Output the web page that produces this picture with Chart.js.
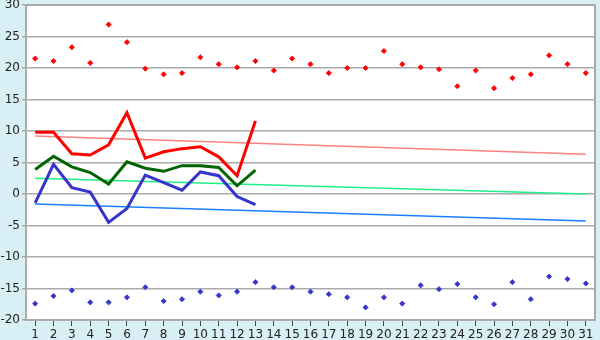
<!DOCTYPE html>
<html>
<head>
<meta charset="utf-8">
<script src="https://cdn.jsdelivr.net/npm/chart.js@4.4.1/dist/chart.umd.min.js"></script>
<style>
  html, body { margin: 0; padding: 0; background: #d9eff6; }
  #wrap { width: 600px; height: 340px; }
</style>
</head>
<body>
<div id="wrap"><canvas id="grafico" width="600" height="340"></canvas></div>
<script>
const dias = ["1","2","3","4","5","6","7","8","9","10","11","12","13","14","15","16",
  "17","18","19","20","21","22","23","24","25","26","27","28","29","30","31"];

// records per day
const recordMax = [21.5, 21.1, 23.3, 20.8, 26.9, 24.1, 19.9, 19.0, 19.2, 21.7, 20.6, 20.1, 21.1, 19.6, 21.5, 20.6,
  19.2, 20.0, 20.0, 22.7, 20.6, 20.1, 19.8, 17.1, 19.6, 16.8, 18.4, 19.0, 22.0, 20.6, 19.2];
const recordMin = [-17.4, -16.2, -15.3, -17.2, -17.2, -16.4, -14.8, -17.0, -16.7, -15.5, -16.1, -15.5, -14.0, -14.8, -14.8, -15.5,
  -15.9, -16.4, -18.0, -16.4, -17.4, -14.5, -15.1, -14.3, -16.4, -17.5, -14.0, -16.7, -13.1, -13.5, -14.2];

// this month, days 1-13
const tempMax = [9.8, 9.8, 6.4, 6.2, 7.8, 12.9, 5.7, 6.7, 7.2, 7.5, 5.9, 2.9, 11.6];
const tempMed = [3.9, 6.0, 4.3, 3.4, 1.6, 5.1, 4.1, 3.6, 4.5, 4.5, 4.2, 1.3, 3.8];
const tempMin = [-1.4, 4.7, 1.0, 0.3, -4.5, -2.3, 3.0, 1.8, 0.6, 3.5, 2.9, -0.4, -1.7];

// trend lines (first and last day)
const tendMax = [9.2, 6.3];
const tendMed = [2.5, 0.0];
const tendMin = [-1.6, -4.3];

const yTicks = [-20, -15, -10, -5, 0, 5, 10, 15, 20, 25, 30];

function tendencia(v) {
  return [{ x: dias[0], y: v[0] }, { x: dias[dias.length - 1], y: v[1] }];
}

const fondo = {
  id: "fondo",
  beforeDraw(chart) {
    const { ctx, chartArea: a } = chart;
    ctx.save();
    ctx.fillStyle = "#d9eff6";
    ctx.fillRect(0, 0, chart.width, chart.height);
    ctx.fillStyle = "#ffffff";
    ctx.fillRect(a.left, a.top, a.right - a.left, a.bottom - a.top);
    ctx.restore();
  },
  afterDraw(chart) {
    const { ctx, chartArea: a } = chart;
    ctx.save();
    ctx.strokeStyle = "#aaaaaa";
    ctx.lineWidth = 2;
    ctx.strokeRect(a.left, a.top, a.right - a.left, a.bottom - a.top);
    ctx.restore();
  }
};

const linea = (label, data, color, width, order) => ({
  type: "line", label, data, borderColor: color, backgroundColor: color,
  borderWidth: width, pointRadius: 0, tension: 0, fill: false, order
});

const puntos = (label, data, color) => ({
  type: "line", label, data, showLine: false, borderColor: color, backgroundColor: color,
  pointStyle: "rectRot", pointRadius: 2.6, pointBorderWidth: 0.8, order: 0
});

new Chart(document.getElementById("grafico"), {
  data: {
    labels: dias,
    datasets: [
      linea("Tendencia máx", tendencia(tendMax), "#ff8080", 1.5, 5),
      linea("Tendencia med", tendencia(tendMed), "#22ee88", 1.5, 5),
      linea("Tendencia mín", tendencia(tendMin), "#1a7fff", 1.5, 5),
      linea("Máxima", tempMax, "#ff0000", 3, 2),
      linea("Media", tempMed, "#006400", 3, 3),
      linea("Mínima", tempMin, "#3535cc", 3, 4),
      puntos("Récord máx", recordMax, "#ff0000"),
      puntos("Récord mín", recordMin, "#3535cc")
    ]
  },
  options: {
    responsive: false,
    animation: false,
    layout: { padding: { left: 0, right: 5, top: 5, bottom: 0 } },
    plugins: { legend: { display: false }, tooltip: { enabled: false } },
    scales: {
      x: {
        type: "category",
        offset: true,
        grid: { display: true, offset: false, drawOnChartArea: false, drawTicks: true, tickLength: 6, color: "#444444" },
        border: { color: "#aaaaaa", width: 2 },
        ticks: { color: "#222222", font: { family: "DejaVu Sans", size: 12 }, padding: 2, maxRotation: 0, autoSkip: false },
        afterFit(s) { s.height = 20; s.paddingLeft = 0; s.paddingRight = 0; }
      },
      y: {
        min: -20, max: 30,
        afterBuildTicks(s) { s.ticks = yTicks.map(v => ({ value: v })); },
        grid: { color: "#aaaaaa", lineWidth: 1.5, tickLength: 4, drawTicks: true },
        border: { color: "#aaaaaa", width: 2 },
        ticks: { color: "#222222", font: { family: "DejaVu Sans", size: 12 }, padding: 2 },
        afterFit(s) { s.width = 26; s.paddingTop = 0; s.paddingBottom = 0; }
      }
    }
  },
  plugins: [fondo]
});
</script>
</body>
</html>
